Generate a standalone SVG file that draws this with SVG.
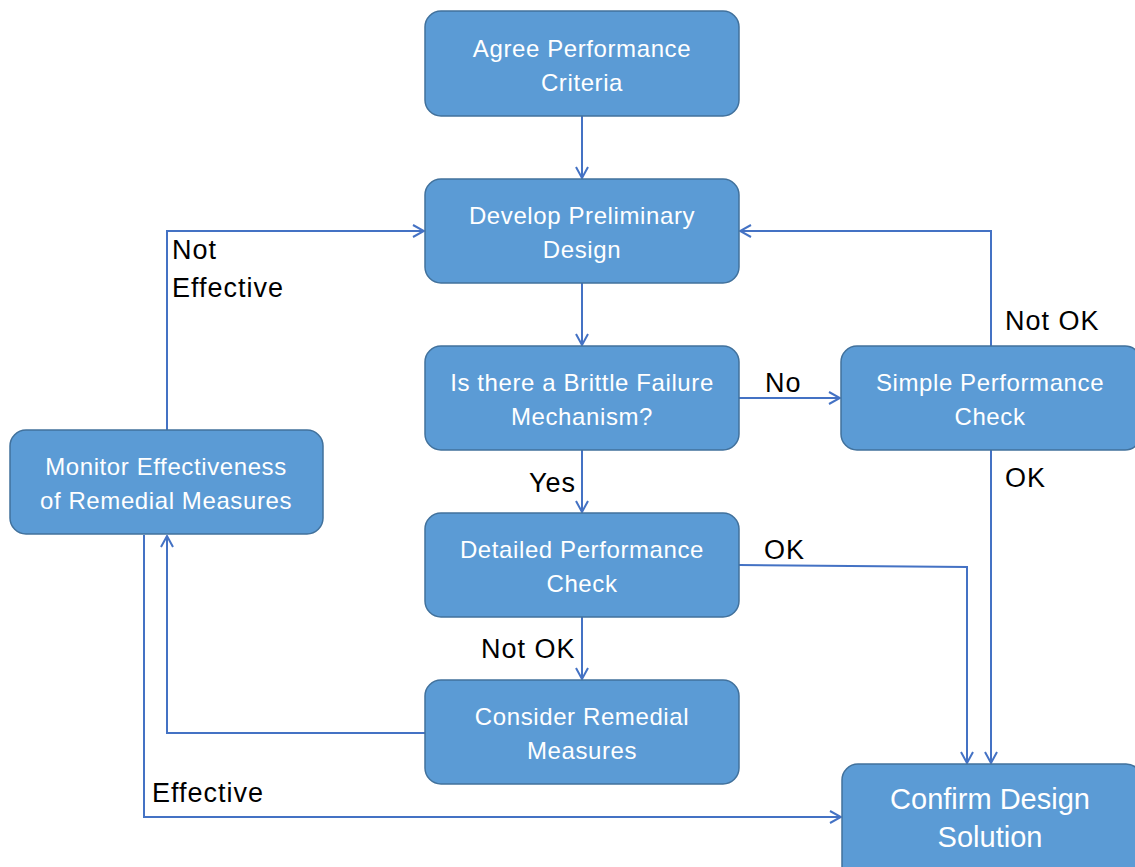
<svg xmlns="http://www.w3.org/2000/svg" width="1135" height="867" viewBox="0 0 1135 867">
<style>
.box{fill:#5B9BD5;stroke:#41719C;stroke-width:1.5}
.bt{fill:#fff;font-family:"Liberation Sans",Arial,sans-serif;font-size:24px;letter-spacing:0.6px;text-anchor:middle}
.big{font-size:29px;letter-spacing:0}
.lbl{fill:#000;font-family:"Liberation Sans",Arial,sans-serif;font-size:27px;letter-spacing:1px}
.con{fill:none;stroke:#4472C4;stroke-width:2;marker-end:url(#arr)}
</style>
<defs>
<marker id="arr" viewBox="0 0 14 14" refX="13" refY="7" markerWidth="14" markerHeight="14" markerUnits="userSpaceOnUse" orient="auto">
<path d="M2,1 L13,7 L2,13" fill="none" stroke="#4472C4" stroke-width="2"/>
</marker>
</defs>
<rect width="1135" height="867" fill="#fff"/>
<g id="connectors">
<path class="con" d="M582,116 L582,178"/>
<path class="con" d="M582,283 L582,345"/>
<path class="con" d="M582,450 L582,512"/>
<path class="con" d="M582,617 L582,679"/>
<path class="con" d="M739,398 L840,398"/>
<path class="con" d="M991,346 L991,231 L740,231"/>
<path class="con" d="M991,450 L991,763"/>
<path class="con" d="M739,565 L967,567 L967,763"/>
<path class="con" d="M425,733 L167,733 L167,536"/>
<path class="con" d="M167,430 L167,231 L424,231"/>
<path class="con" d="M144,535 L144,817 L841,817"/>
</g>
<g id="agree"><rect class="box" x="425" y="11" width="314" height="105" rx="16"/><text class="bt" x="582" y="57">Agree Performance</text><text class="bt" x="582" y="91">Criteria</text></g>
<g id="develop"><rect class="box" x="425" y="179" width="314" height="104" rx="16"/><text class="bt" x="582" y="224">Develop Preliminary</text><text class="bt" x="582" y="258">Design</text></g>
<g id="brittle"><rect class="box" x="425" y="346" width="314" height="104" rx="16"/><text class="bt" x="582" y="391">Is there a Brittle Failure</text><text class="bt" x="582" y="425">Mechanism?</text></g>
<g id="detailed"><rect class="box" x="425" y="513" width="314" height="104" rx="16"/><text class="bt" x="582" y="558">Detailed Performance</text><text class="bt" x="582" y="592">Check</text></g>
<g id="consider"><rect class="box" x="425" y="680" width="314" height="104" rx="16"/><text class="bt" x="582" y="725">Consider Remedial</text><text class="bt" x="582" y="759">Measures</text></g>
<g id="simple"><rect class="box" x="841" y="346" width="300" height="104" rx="16"/><text class="bt" x="990" y="391">Simple Performance</text><text class="bt" x="990" y="425">Check</text></g>
<g id="monitor"><rect class="box" x="10" y="430" width="313" height="104" rx="16"/><text class="bt" x="166" y="475">Monitor Effectiveness</text><text class="bt" x="166" y="509">of Remedial Measures</text></g>
<g id="confirm"><rect class="box" x="842" y="764" width="300" height="120" rx="16"/><text class="bt big" x="990" y="809">Confirm Design</text><text class="bt big" x="990" y="847">Solution</text></g>
<g id="labels">
<text class="lbl" x="765" y="392">No</text>
<text class="lbl" x="1005" y="330">Not OK</text>
<text class="lbl" x="1005" y="487">OK</text>
<text class="lbl" x="529" y="492">Yes</text>
<text class="lbl" x="764" y="559">OK</text>
<text class="lbl" x="481" y="658">Not OK</text>
<text class="lbl" x="172" y="259">Not</text>
<text class="lbl" x="172" y="297">Effective</text>
<text class="lbl" x="152" y="802">Effective</text>
</g>
</svg>
